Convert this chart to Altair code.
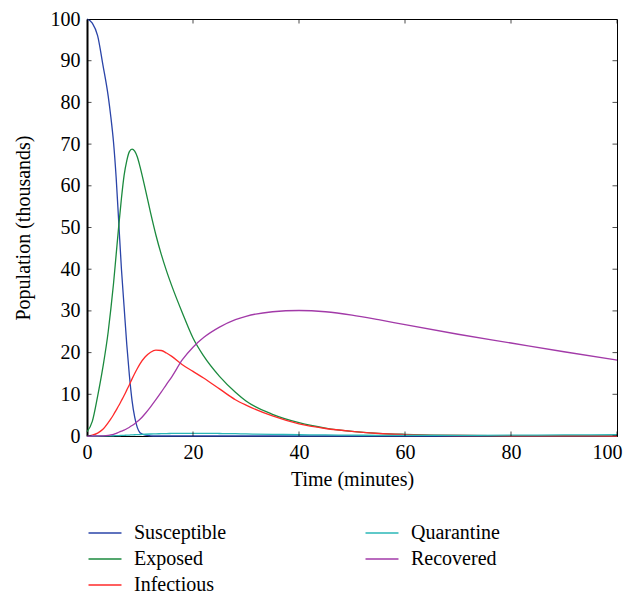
import altair as alt
import pandas as pd

time = [0, 1, 2, 3, 4, 4.5, 5, 5.5, 6, 6.5, 7, 7.5, 8, 8.5, 9, 9.5, 10, 11, 12, 13, 14, 15, 16,
        18, 20, 22, 25, 28, 30, 35, 40, 45, 50, 55, 60, 70, 80, 90, 100]

susceptible = [100, 99, 96, 89, 81.5, 76.5, 70.5, 62, 51, 40, 31, 22, 14.5, 8.5, 4.5, 2, 0.8, 0.2, 0.05, 0,
               0, 0, 0, 0, 0, 0, 0, 0, 0, 0, 0, 0, 0, 0, 0, 0, 0, 0, 0]
exposed = [1, 3.5, 9.5, 16.5, 25, 30.5, 36.5, 43.5, 50.5, 57, 62.5, 66, 68.2, 68.8, 68.3, 66.9, 64.6, 59.2,
           53.5, 48.2, 43.6, 39.6, 36, 29.5, 23.5, 19.2, 14.3, 10.5, 8.4, 5.2, 3.2, 1.9, 1.1, 0.65, 0.4,
           0.15, 0.1, 0.1, 0.1]
infectious = [0, 0.2, 0.7, 1.6, 3.2, 4.1, 5.1, 6.2, 7.3, 8.5, 9.7, 11.0, 12.3, 13.7, 15.0, 16.2, 17.3, 19.0,
              20.1, 20.6, 20.5, 19.9, 19.1, 17.1, 15.5, 13.9, 11.3, 8.7, 7.4, 4.8, 2.9, 1.8, 1.1, 0.6,
              0.35, 0.12, 0.05, 0.02, 0]
quarantine = [0, 0, 0, 0.02, 0.04, 0.05, 0.06, 0.08, 0.1, 0.13, 0.16, 0.2, 0.23, 0.27, 0.3, 0.33, 0.36,
              0.42, 0.48, 0.52, 0.56, 0.59, 0.61, 0.64, 0.65, 0.64, 0.6, 0.55, 0.5, 0.4, 0.3, 0.25,
              0.2, 0.17, 0.15, 0.15, 0.2, 0.25, 0.3]
recovered = [0, 0, 0.02, 0.05, 0.15, 0.25, 0.4, 0.65, 0.9, 1.15, 1.4, 1.75, 2.1, 2.5, 2.95, 3.45, 4.0, 5.4,
             7.0, 8.7, 10.5, 12.4, 14.2, 18.3, 21.3, 23.6, 26.1, 27.9, 28.7, 29.8, 30.1, 29.8, 29.0,
             27.9, 26.7, 24.4, 22.3, 20.2, 18.2]

series_names = ["Susceptible", "Exposed", "Infectious", "Quarantine", "Recovered"]
series_colors = ["#2a44a8", "#1b8a3e", "#ff2a2a", "#2ab7b7", "#a23aa8"]
series_values = {
    "Susceptible": susceptible,
    "Exposed": exposed,
    "Infectious": infectious,
    "Quarantine": quarantine,
    "Recovered": recovered,
}

x_ticks = [0, 20, 40, 60, 80, 100]
y_ticks = [0, 10, 20, 30, 40, 50, 60, 70, 80, 90, 100]

rows = []
for name, vals in series_values.items():
    for t, v in zip(time, vals):
        rows.append({"t": t, "v": v, "series": name})
df = pd.DataFrame(rows)

FONT = "Liberation Serif"
XT = "Time (minutes)"
YT = "Population (thousands)"

xscale = alt.Scale(domain=[0, 100], nice=False)
yscale = alt.Scale(domain=[0, 100], nice=False)

lines = alt.Chart(df).mark_line(strokeWidth=1.3, interpolate="monotone").encode(
    x=alt.X("t:Q", scale=xscale, title=XT,
            axis=alt.Axis(values=x_ticks, tickSize=0, grid=False, labelPadding=6,
                          labelFlush=True, labelFlushOffset=5, titlePadding=7,
                          domainColor="black")),
    y=alt.Y("v:Q", scale=yscale, title=YT,
            axis=alt.Axis(values=y_ticks, tickSize=0, grid=False, labelPadding=7,
                          labelFlush=False, titlePadding=17, domainWidth=2,
                          domainColor="black")),
    color=alt.Color("series:N",
                    scale=alt.Scale(domain=series_names, range=series_colors),
                    legend=alt.Legend(orient="none", legendX=8, legendY=504, columns=2,
                                      columnPadding=135, rowPadding=6, title=None,
                                      symbolType="M-2,0H2", symbolSize=272,
                                      symbolStrokeWidth=1.5, labelFontSize=20,
                                      labelFont=FONT, labelOffset=19, labelColor="black")),
)

tx = pd.DataFrame({"t": x_ticks})
ty = pd.DataFrame({"v": y_ticks})

tick_kw = dict(color="black", thickness=1, size=9, clip=True)
bottom = alt.Chart(tx).mark_tick(orient="vertical", **tick_kw).encode(
    x=alt.X("t:Q", title=XT), y=alt.datum(0))
top = alt.Chart(tx).mark_tick(orient="vertical", **tick_kw).encode(
    x=alt.X("t:Q", title=XT), y=alt.datum(100))
left = alt.Chart(ty).mark_tick(orient="horizontal", **tick_kw).encode(
    y=alt.Y("v:Q", title=YT), x=alt.datum(0))
right = alt.Chart(ty).mark_tick(orient="horizontal", **tick_kw).encode(
    y=alt.Y("v:Q", title=YT), x=alt.datum(100))

chart = alt.layer(lines, bottom, top, left, right).properties(
    width=530, height=417, background="white",
    autosize=alt.AutoSizeParams(type="none"),
    padding={"left": 79, "top": 11, "right": 7, "bottom": 158},
).configure(font=FONT).configure_axis(
    labelFont=FONT, labelFontSize=20, labelColor="black", titleFont=FONT,
    titleFontSize=20, titleFontWeight="normal", titleColor="black",
).configure_view(stroke="black", strokeWidth=1)

chart.save("out.html", embed_options={"renderer": "svg", "actions": False})
